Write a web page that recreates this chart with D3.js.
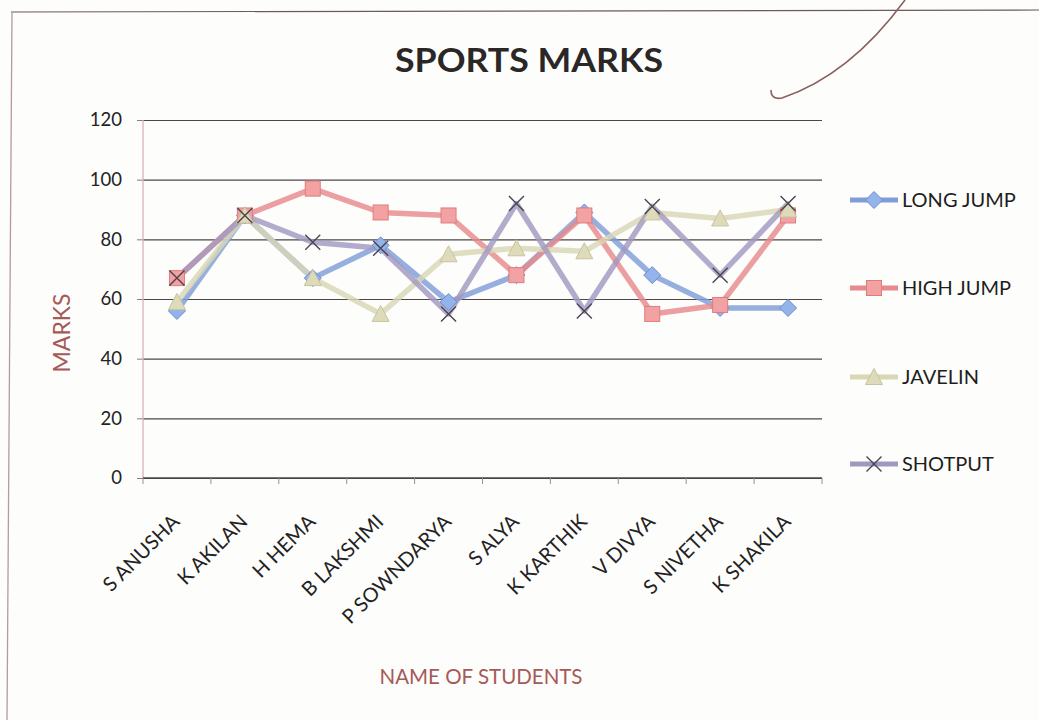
<!DOCTYPE html>
<html>
<head>
<meta charset="utf-8">
<script src="https://cdn.jsdelivr.net/npm/d3@7"></script>
<style>
  html, body { margin: 0; padding: 0; background: #fdfdfc; }
  svg { display: block; }
  text { font-family: Lato, "Open Sans", sans-serif; }
</style>
</head>
<body>
<svg id="chart" width="1039" height="720"></svg>
<script>
const students = ["S ANUSHA","K AKILAN","H HEMA","B LAKSHMI","P SOWNDARYA","S ALYA","K KARTHIK","V DIVYA","S NIVETHA","K SHAKILA"];
const longJump = [56, 88, 67, 78, 59, 68, 89, 68, 57, 57];
const highJump = [67, 88, 97, 89, 88, 68, 88, 55, 58, 88];
const javelin  = [59, 88, 67, 55, 75, 77, 76, 89, 87, 90];
const shotput  = [67, 88, 79, 77, 55, 92, 56, 91, 68, 92];
const seriesNames = ["LONG JUMP", "HIGH JUMP", "JAVELIN", "SHOTPUT"];
const yTicks = [0, 20, 40, 60, 80, 100, 120];

const series = [
  {name: seriesNames[0], values: longJump, line: "#7f9ed8", fill: "#93b4ea", stroke: "#6f8ccc", marker: "diamond"},
  {name: seriesNames[1], values: highJump, line: "#e68a8c", fill: "#f2a2a2", stroke: "#e07c7e", marker: "square"},
  {name: seriesNames[2], values: javelin,  line: "#d9d7b4", fill: "#dedbbb", stroke: "#c8c49f", marker: "triangle"},
  {name: seriesNames[3], values: shotput,  line: "#a298bf", fill: "none",    stroke: "#4a4450", marker: "x"}
];

const svg = d3.select("#chart");
const pLeft = 143, pRight = 822, pTop = 120, pBottom = 478;

// Frame (printed border)
svg.append("line").attr("x1", 11).attr("y1", 12).attr("x2", 1039).attr("y2", 10)
  .attr("stroke", "#6d5a5a").attr("stroke-width", 1.2);
svg.append("line").attr("x1", 12).attr("y1", 12).attr("x2", 7).attr("y2", 720)
  .attr("stroke", "#b79a9c").attr("stroke-width", 1.3);

// pen stroke
svg.append("path")
  .attr("d", "M771,90 Q771,100 782,98 Q850,75 905,0")
  .attr("fill", "none").attr("stroke", "#8a5f5c").attr("stroke-width", 1.6);

const x = d3.scaleBand().domain(students).range([pLeft, pRight]).padding(0);
const y = d3.scaleLinear().domain([0, 120]).range([pBottom, pTop]);
const cx = d => x(d) + x.bandwidth() / 2;

// Gridlines via axis
const yAxis = svg.append("g").attr("transform", `translate(${pLeft},0)`)
  .call(d3.axisLeft(y).tickValues(yTicks).tickSize(-(pRight - pLeft)).tickPadding(21));
yAxis.select(".domain").remove();
yAxis.selectAll(".tick line").attr("stroke", "#4d4646").attr("stroke-width", 1.2);
yAxis.selectAll(".tick text").attr("fill", "#222").style("font-size", "18.5px").style("font-family", "Lato, sans-serif");
yAxis.selectAll(".tick").append("line").attr("x1", -6).attr("x2", 0).attr("stroke", "#8a7a7a");

// Y axis line
svg.append("line").attr("x1", pLeft).attr("x2", pLeft).attr("y1", pTop).attr("y2", pBottom)
  .attr("stroke", "#d7b3b5").attr("stroke-width", 1.3);

// X axis
const xAxis = svg.append("g").attr("transform", `translate(0,${pBottom})`)
  .call(d3.axisBottom(x).tickSize(0).tickPadding(0));
xAxis.select(".domain").remove();
xAxis.append("line").attr("x1", pLeft).attr("x2", pRight).attr("stroke", "#4d4646").attr("stroke-width", 1.3);
const bounds = [pLeft].concat(students.map(s => x(s) + x.bandwidth()));
xAxis.selectAll(".bt").data(bounds).enter().append("line")
  .attr("x1", d => d).attr("x2", d => d).attr("y1", 0).attr("y2", 6)
  .attr("stroke", "#9a8e8e");
xAxis.selectAll(".tick text")
  .attr("text-anchor", "end")
  .attr("fill", "#222")
  .style("font-size", "20px")
  .style("font-family", "Lato, sans-serif")
  .attr("dy", null)
  .attr("transform", "translate(4,45) rotate(-45)");

// Axis titles
svg.append("text").attr("transform", "translate(70,333) rotate(-90)")
  .attr("text-anchor", "middle").attr("fill", "#a65a58")
  .style("font-size", "23px").text("MARKS");
svg.append("text").attr("x", 481).attr("y", 684)
  .attr("text-anchor", "middle").attr("fill", "#a65a58")
  .style("font-size", "20.5px").text("NAME OF STUDENTS");

// Title
svg.append("text").attr("x", 395).attr("y", 72)
  .attr("textLength", 268).attr("lengthAdjust", "spacingAndGlyphs")
  .attr("fill", "#2b2727").style("font-weight", "bold").style("font-size", "33px")
  .text("SPORTS MARKS");

function drawMarker(g, type, s, px, py, size) {
  const h = size / 2;
  if (type === "diamond") {
    g.append("path").attr("d", `M${px},${py - h - 1}L${px + h + 1},${py}L${px},${py + h + 1}L${px - h - 1},${py}Z`)
      .attr("fill", s.fill).attr("stroke", s.stroke).attr("stroke-width", 1);
  } else if (type === "square") {
    g.append("rect").attr("x", px - h).attr("y", py - h).attr("width", size).attr("height", size)
      .attr("fill", s.fill).attr("stroke", s.stroke).attr("stroke-width", 1);
  } else if (type === "triangle") {
    g.append("path").attr("d", `M${px},${py - h - 1}L${px + h + 1},${py + h}L${px - h - 1},${py + h}Z`)
      .attr("fill", s.fill).attr("stroke", s.stroke).attr("stroke-width", 1);
  } else {
    g.append("path").attr("d", `M${px - h},${py - h}L${px + h},${py + h}M${px + h},${py - h}L${px - h},${py + h}`)
      .attr("fill", "none").attr("stroke", s.stroke).attr("stroke-width", 1.4);
  }
}

const line = d3.line().x((d, i) => cx(students[i])).y(d => y(d));
const plot = svg.append("g");
series.forEach(s => {
  plot.append("path").datum(s.values)
    .attr("d", line).attr("fill", "none")
    .attr("stroke", s.line).attr("stroke-width", 5.5).attr("stroke-opacity", 0.82)
    .attr("stroke-linejoin", "round");
});
series.forEach(s => {
  const g = plot.append("g");
  s.values.forEach((v, i) => drawMarker(g, s.marker, s, cx(students[i]), y(v), 15));
});

// Legend
const legY = [200, 288, 377, 464];
series.forEach((s, i) => {
  const g = svg.append("g").attr("transform", `translate(0,${legY[i]})`);
  g.append("line").attr("x1", 850).attr("x2", 898).attr("y1", 0).attr("y2", 0)
    .attr("stroke", s.line).attr("stroke-width", 5);
  drawMarker(g, s.marker, s, 874, 0, 15);
  g.append("text").attr("x", 902).attr("y", 7).attr("fill", "#1e1e1e")
    .style("font-size", "20px").text(s.name);
});
</script>
</body>
</html>
